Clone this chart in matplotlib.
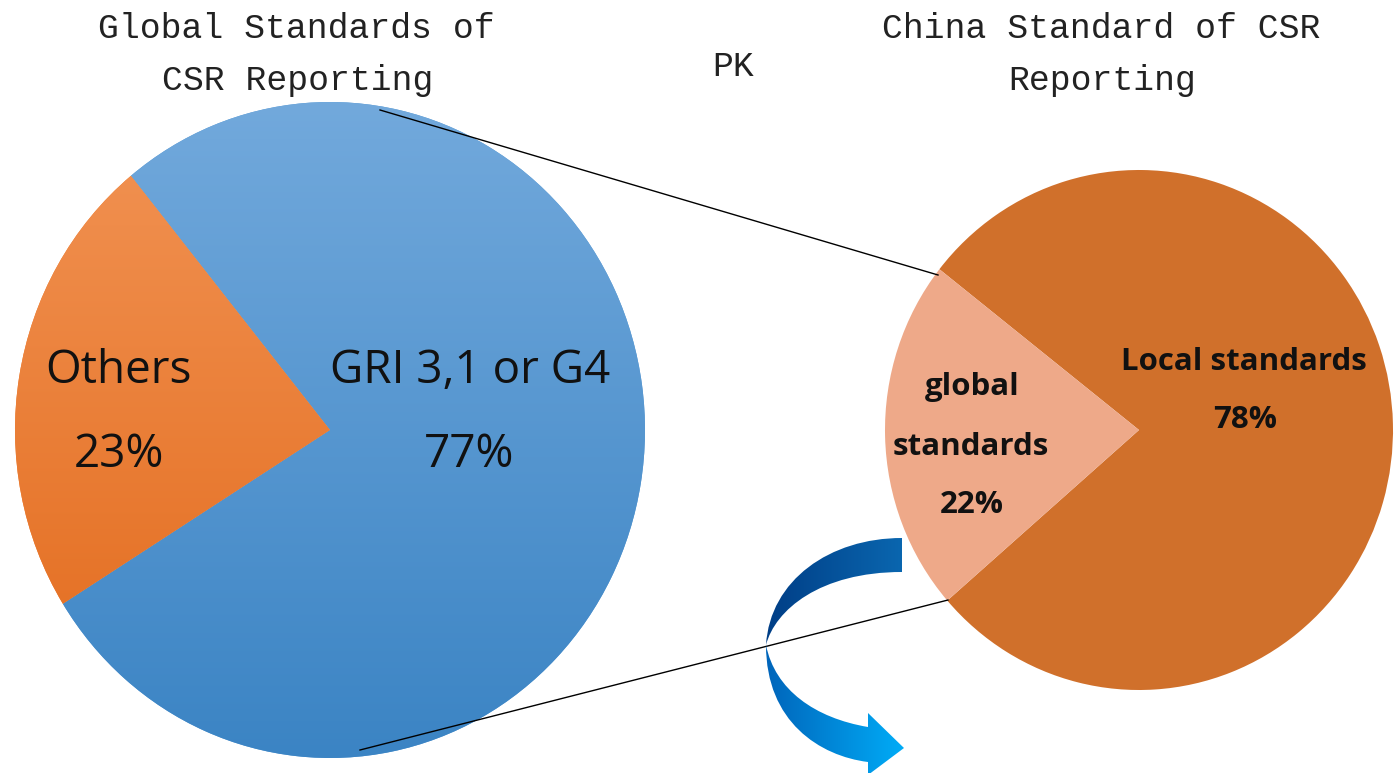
import numpy as np
import matplotlib
matplotlib.use('Agg')
import matplotlib.pyplot as plt
from matplotlib.colors import LinearSegmentedColormap
from matplotlib.path import Path
from matplotlib.patches import PathPatch

# data
global_labels = ['GRI 3,1 or G4', 'Others']
global_values = [77, 23]
china_labels = ['Local standards', 'global\nstandards']
china_values = [78, 22]

W, H = 1398, 773
fig = plt.figure(figsize=(W / 100, H / 100), dpi=100)


def Y(py):
    return H - py


def gradient_fill(ax, patch, c0, c1, ext, horizontal=False, z=2):
    # c0 at top/left, c1 at bottom/right
    cmap = LinearSegmentedColormap.from_list('g', [c0, c1])
    g = np.linspace(0, 1, 256)
    img = np.tile(g, (2, 1)) if horizontal else np.tile(g[::-1], (2, 1)).T
    im = ax.imshow(img, cmap=cmap, extent=ext, origin='lower',
                   aspect='auto', zorder=z, interpolation='bilinear')
    im.set_clip_path(patch)


def pie_axes(cx, cy, rx, ry):
    # axes box in pixel units -> figure fraction, pie of radius 1 fills it
    a = fig.add_axes([(cx - rx) / W, (H - cy - ry) / H, 2 * rx / W, 2 * ry / H])
    a.axis('off')
    return a


# left pie (slightly taller than wide, like the original)
axl = pie_axes(330, 430, 315, 328)
wl, _ = axl.pie(global_values, radius=1, startangle=212,
                colors=['#5a9bd5', '#f07d2e'], wedgeprops=dict(linewidth=0))
gradient_fill(axl, wl[0], '#72a9dc', '#3b84c4', [-1, 1, -1, 1])
gradient_fill(axl, wl[1], '#f29455', '#e2691a', [-1, 1, -1, 1])
axl.set_xlim(-1, 1)
axl.set_ylim(-1, 1)
axl.set_aspect('auto')

# right pie
axr = pie_axes(1139, 430, 254, 260)
wr, _ = axr.pie(china_values, radius=1, startangle=221,
                colors=['#d0702b', '#eea989'], wedgeprops=dict(linewidth=0))
axr.set_xlim(-1, 1)
axr.set_ylim(-1, 1)
axr.set_aspect('auto')

# overlay in pixel units
ax = fig.add_axes([0, 0, 1, 1])
ax.patch.set_alpha(0)
ax.set_xlim(0, W)
ax.set_ylim(0, H)
ax.axis('off')

# connector lines
ax.plot([380, 938], [Y(110), Y(275)], color='black', lw=1.0, zorder=5)
ax.plot([360, 948], [Y(750), Y(600)], color='black', lw=1.0, zorder=5)

# curved arrow (decoration)
top_band = Path([(902, Y(538)), (830, Y(538)), (770, Y(580)), (766, Y(645)),
                 (775, Y(610)), (820, Y(572)), (902, Y(572)), (902, Y(538))],
                [Path.MOVETO, Path.CURVE4, Path.CURVE4, Path.CURVE4,
                 Path.CURVE4, Path.CURVE4, Path.CURVE4, Path.CLOSEPOLY])
bot_band = Path([(766, Y(645)), (766, Y(722)), (820, Y(756)), (868, Y(762)),
                 (868, Y(775)), (904, Y(748)), (868, Y(713)), (868, Y(727)),
                 (815, Y(718)), (775, Y(690)), (766, Y(645)), (766, Y(645))],
                [Path.MOVETO, Path.CURVE4, Path.CURVE4, Path.CURVE4,
                 Path.LINETO, Path.LINETO, Path.LINETO, Path.LINETO,
                 Path.CURVE4, Path.CURVE4, Path.CURVE4, Path.CLOSEPOLY])
pt = PathPatch(top_band, facecolor='none', edgecolor='none', zorder=6)
pb = PathPatch(bot_band, facecolor='none', edgecolor='none', zorder=6)
ax.add_patch(pt)
ax.add_patch(pb)
gradient_fill(ax, pt, '#003c84', '#0a67b0', [760, 905, Y(650), Y(535)], horizontal=True, z=6)
gradient_fill(ax, pb, '#0062b8', '#00adf8', [760, 906, Y(775), Y(640)], horizontal=True, z=6)
ax.set_xlim(0, W)
ax.set_ylim(0, H)
ax.set_aspect('auto')

# slice labels
lf = dict(family=['Open Sans', 'DejaVu Sans'], fontsize=33, color='#111111',
          ha='center', va='baseline', zorder=7)
ax.text(470, Y(383), global_labels[0], **lf)
ax.text(469, Y(467), f'{global_values[0]}%', **lf)
ax.text(118, Y(383), global_labels[1], **lf)
ax.text(119, Y(467), f'{global_values[1]}%', **lf)

rf = dict(family=['Open Sans', 'DejaVu Sans'], fontsize=22.5, fontweight='bold',
          color='#111111', ha='center', va='baseline', zorder=7)
ax.text(1244, Y(370), china_labels[0], **rf)
ax.text(1245, Y(428), f'{china_values[0]}%', **rf)
g1, g2 = china_labels[1].split('\n')
ax.text(972, Y(395), g1, **rf)
ax.text(971, Y(455), g2, **rf)
ax.text(972, Y(513), f'{china_values[1]}%', **rf)

# titles
tf = dict(family=['Liberation Mono', 'DejaVu Sans Mono'], fontsize=25, color='#222222',
          ha='center', va='baseline')
ax.text(296, Y(38), 'Global Standards of', **tf)
ax.text(298, Y(90), 'CSR Reporting', **tf)
ax.text(1101, Y(38), 'China Standard of CSR', **tf)
ax.text(1102, Y(90), 'Reporting', **tf)
ax.text(733, Y(76), 'PK', **tf)

fig.savefig('out.png', dpi=100, facecolor='white')
